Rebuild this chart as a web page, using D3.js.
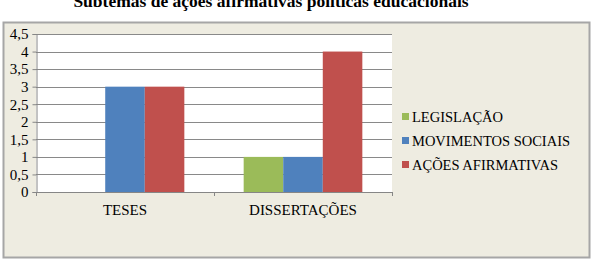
<!DOCTYPE html>
<html>
<head>
<meta charset="utf-8">
<script src="https://cdn.jsdelivr.net/npm/d3@7"></script>
<style>
  body { margin: 0; background: #fff; }
  text { font-family: "Liberation Serif", "Times New Roman", serif; fill: #000; }
</style>
</head>
<body>
<svg id="chart" width="593" height="261"></svg>
<script>
// data
const categories = ["TESES", "DISSERTAÇÕES"];
const seriesNames = ["LEGISLAÇÃO", "MOVIMENTOS SOCIAIS", "AÇÕES AFIRMATIVAS"];
const legislacao = [0, 1];
const movimentos = [3, 1];
const acoes = [3, 4];
const yTicks = [0, 0.5, 1, 1.5, 2, 2.5, 3, 3.5, 4, 4.5];
const colors = ["#9BBB59", "#4F81BD", "#C0504D"];

const seriesValues = [legislacao, movimentos, acoes];
const serif = "'Liberation Serif', 'Times New Roman', serif";

let svg = d3.select("#chart");

// title (cut off at top like the original)
svg.append("text")
    .attr("x", 271)
    .attr("y", 7)
    .attr("text-anchor", "middle")
    .style("font-family", serif)
    .style("font-size", "17.5px")
    .style("font-weight", "bold")
    .text("Subtemas de ações afirmativas políticas educacionais");

// chart area
svg.append("rect")
    .attr("x", 3.5).attr("y", 22.5)
    .attr("width", 586).attr("height", 235)
    .attr("fill", "#EEECE1")
    .attr("stroke", "#A6A6A6")
    .attr("stroke-width", 2);

let plot = { left: 36, right: 392, top: 34, bottom: 192 };

let x0 = d3.scaleBand()
    .domain(categories)
    .range([plot.left, plot.right]);

let bw = x0.bandwidth();
let x1 = d3.scaleBand()
    .domain(seriesNames)
    .range([bw / 6, bw * 5 / 6]);

let y = d3.scaleLinear()
    .domain([0, 4.5])
    .range([plot.bottom, plot.top]);

// plot area
svg.append("rect")
    .attr("x", plot.left).attr("y", plot.top)
    .attr("width", plot.right - plot.left)
    .attr("height", plot.bottom - plot.top)
    .attr("fill", "#fff");

// gridlines
svg.append("g")
    .selectAll("line")
    .data(yTicks.filter(d => d > 0))
    .enter().append("line")
    .attr("x1", plot.left).attr("x2", plot.right)
    .attr("y1", d => Math.round(y(d)) + 0.5)
    .attr("y2", d => Math.round(y(d)) + 0.5)
    .attr("stroke", "#898989");

// bars
let rows = [];
categories.forEach((c, i) => {
    seriesNames.forEach((s, j) => {
        rows.push({ cat: c, series: s, value: seriesValues[j][i], color: colors[j] });
    });
});

svg.append("g")
    .selectAll("rect")
    .data(rows)
    .enter().append("rect")
    .attr("x", d => x0(d.cat) + x1(d.series))
    .attr("y", d => y(d.value))
    .attr("width", x1.bandwidth())
    .attr("height", d => plot.bottom - y(d.value))
    .attr("fill", d => d.color);

// y axis
let yAxis = svg.append("g")
    .attr("transform", "translate(" + (plot.left + 0.5) + ",0)")
    .call(d3.axisLeft(y)
        .tickValues(yTicks)
        .tickSize(4)
        .tickPadding(4)
        .tickFormat(d => String(d).replace(".", ",")));

// x axis
let xAxis = svg.append("g")
    .attr("transform", "translate(0," + (plot.bottom + 0.5) + ")")
    .call(d3.axisBottom(x0).tickSize(0).tickPadding(12));

// category boundary ticks like excel
svg.append("g")
    .selectAll("line")
    .data([plot.left, x0(categories[1]), plot.right])
    .enter().append("line")
    .attr("x1", d => Math.round(d) + 0.5).attr("x2", d => Math.round(d) + 0.5)
    .attr("y1", plot.bottom).attr("y2", plot.bottom + 4)
    .attr("stroke", "#868686");

[yAxis, xAxis].forEach(a => {
    a.attr("font-family", null);
    a.select(".domain").attr("stroke", "#868686");
    a.selectAll(".tick line").attr("stroke", "#868686");
    a.selectAll("text")
        .style("font-family", serif)
        .style("font-size", "15px")
        .attr("fill", "#000");
});
xAxis.select(".domain").attr("d", "M" + plot.left + ",0H" + plot.right);

// legend
let legend = svg.append("g")
    .selectAll("g")
    .data(seriesNames)
    .enter().append("g")
    .attr("transform", (d, i) => "translate(402," + (117 + i * 24) + ")");

legend.append("rect")
    .attr("x", 0).attr("y", -4)
    .attr("width", 7).attr("height", 7)
    .attr("fill", (d, i) => colors[i]);

legend.append("text")
    .attr("x", 10)
    .attr("y", 5)
    .style("font-family", serif)
    .style("font-size", "14.5px")
    .text(d => d);
</script>
</body>
</html>
